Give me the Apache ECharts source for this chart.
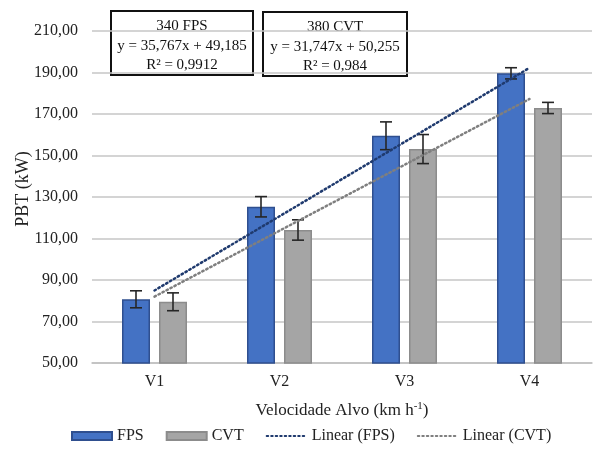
<!DOCTYPE html>
<html>
<head>
<meta charset="utf-8">
<script src="https://cdn.jsdelivr.net/npm/echarts@6/dist/echarts.min.js"></script>
<style>html,body{margin:0;padding:0;background:#fff;}#c{width:603px;height:449px;}</style>
</head>
<body>
<div id="c"></div>
<script>
var categories = ['V1', 'V2', 'V3', 'V4'];
var fps = [80.7, 125.3, 159.5, 189.6];
var cvt = [79.5, 114.1, 153.1, 172.9];
var errFps = [4.1, 4.9, 6.7, 2.7];
var errCvt = [4.3, 4.9, 7.0, 2.7];
var trendFps = [84.95, 120.72, 156.49, 192.25];
var trendCvt = [82.00, 113.75, 145.50, 177.24];
var yTicks = [50, 70, 90, 110, 130, 150, 170, 190, 210];
var yTitle = 'PBT (kW)';
var box1 = ['340 FPS', 'y = 35,767x + 49,185', 'R² = 0,9912'];
var box2 = ['380 CVT', 'y = 31,747x + 50,255', 'R² = 0,984'];

var FONT = '"Liberation Serif", "Times New Roman", serif';
var BAR_W = 28, GAP = 9;

function errSeries(vals, errs, side) {
  return {
    type: 'custom',
    z: 5,
    silent: true,
    data: vals.map(function (v, i) { return [i, v, errs[i]]; }),
    renderItem: function (params, api) {
      var i = api.value(0), v = api.value(1), e = api.value(2);
      var off = side * (BAR_W / 2 + GAP / 2);
      var top = api.coord([i, v + e]);
      var bot = api.coord([i, v - e]);
      var x = top[0] + off;
      var cap = 6;
      var st = { stroke: '#262626', lineWidth: 1.6 };
      return {
        type: 'group',
        children: [
          { type: 'line', shape: { x1: x, y1: top[1], x2: x, y2: bot[1] }, style: st },
          { type: 'line', shape: { x1: x - cap, y1: top[1], x2: x + cap, y2: top[1] }, style: st },
          { type: 'line', shape: { x1: x - cap, y1: bot[1], x2: x + cap, y2: bot[1] }, style: st }
        ]
      };
    }
  };
}

function boxGraphic(left, top, w, h, lines) {
  return {
    type: 'group', left: left, top: top,
    children: [
      { type: 'rect', shape: { x: 0, y: 0, width: w, height: h }, style: { fill: 'transparent', stroke: '#111', lineWidth: 2 } },
      { type: 'text', x: w / 2, y: 15, style: { text: lines[0], font: '15px ' + FONT, fill: '#111', align: 'center', verticalAlign: 'middle' } },
      { type: 'text', x: w / 2, y: 35, style: { text: lines[1], font: '15px ' + FONT, fill: '#111', align: 'center', verticalAlign: 'middle' } },
      { type: 'text', x: w / 2, y: 54, style: { text: lines[2], font: '15px ' + FONT, fill: '#111', align: 'center', verticalAlign: 'middle' } }
    ]
  };
}

var chart = echarts.init(document.getElementById('c'), null, { renderer: 'canvas' });
chart.setOption({
  animation: false,
  backgroundColor: '#fff',
  textStyle: { fontFamily: FONT },
  grid: { left: 92, right: 11, top: 31, bottom: 86 },
  xAxis: {
    type: 'category',
    data: categories,
    axisTick: { show: false },
    axisLine: { lineStyle: { color: '#BFBFBF', width: 1.5 } },
    axisLabel: { color: '#222', fontSize: 16, fontFamily: FONT, margin: 11 },
    name: 'Velocidade Alvo (km h{sup|-1})',
    nameLocation: 'middle',
    nameGap: 38,
    nameTextStyle: {
      color: '#222', fontSize: 17, fontFamily: FONT, lineHeight: 20,
      rich: { sup: { fontSize: 11, fontFamily: FONT, color: '#222', verticalAlign: 'top', lineHeight: 20, padding: [0, 0, 8, 0] } }
    }
  },
  yAxis: {
    type: 'value',
    min: yTicks[0],
    max: yTicks[yTicks.length - 1],
    interval: 20,
    axisLine: { show: false },
    axisTick: { show: false },
    splitLine: { lineStyle: { color: '#C6C6C6', width: 1.5 } },
    axisLabel: {
      color: '#222', fontSize: 16, fontFamily: FONT, margin: 14,
      formatter: function (v) { return v.toFixed(2).replace('.', ','); }
    }
  },
  legend: {
    bottom: 0,
    left: 66,
    itemWidth: 40,
    itemHeight: 8,
    itemGap: 22,
    textStyle: { color: '#222', fontSize: 16, fontFamily: FONT },
    data: [
      { name: 'FPS', icon: 'rect' },
      { name: 'CVT', icon: 'rect' },
      { name: 'Linear (FPS)', itemStyle: { opacity: 0 } },
      { name: 'Linear (CVT)', itemStyle: { opacity: 0 } }
    ]
  },
  series: [
    {
      name: 'FPS', type: 'bar', data: fps, barWidth: BAR_W, barGap: (GAP / BAR_W * 100) + '%',
      itemStyle: { color: '#4472C4', borderColor: '#2F4F8F', borderWidth: 1.5 }
    },
    {
      name: 'CVT', type: 'bar', data: cvt, barWidth: BAR_W,
      itemStyle: { color: '#A5A5A5', borderColor: '#8C8C8C', borderWidth: 1.5 }
    },
    errSeries(fps, errFps, -1),
    errSeries(cvt, errCvt, 1),
    {
      name: 'Linear (FPS)', type: 'line', data: trendFps, showSymbol: false, symbol: 'none', z: 6,
      lineStyle: { color: '#1F3A6E', width: 2.5, type: [1.5, 3], cap: 'round' },
      itemStyle: { color: '#1F3A6E' }
    },
    {
      name: 'Linear (CVT)', type: 'line', data: trendCvt, showSymbol: false, symbol: 'none', z: 6,
      lineStyle: { color: '#7F7F7F', width: 2.5, type: [1.5, 3], cap: 'round' },
      itemStyle: { color: '#7F7F7F' }
    }
  ],
  graphic: [
    boxGraphic(110, 10, 142, 64, box1),
    boxGraphic(262, 11, 144, 64, box2),
    {
      type: 'text', x: 23, y: 189, rotation: Math.PI / 2,
      style: { text: yTitle, font: '18px ' + FONT, fill: '#222', align: 'center', verticalAlign: 'middle' }
    }
  ]
});
</script>
</body>
</html>
